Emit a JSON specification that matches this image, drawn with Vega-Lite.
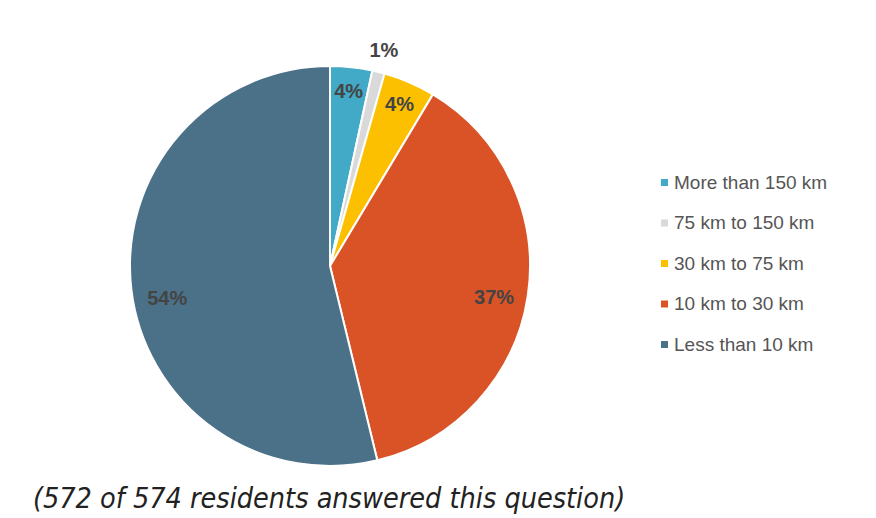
{
  "$schema": "https://vega.github.io/schema/vega-lite/v6.json",
  "width": 640,
  "height": 400,
  "padding": {"left": 10, "top": 35, "right": 5, "bottom": 4},
  "background": "white",
  "config": {"view": {"stroke": null}},
  "title": {
    "text": "(572 of 574 residents answered this question)",
    "orient": "bottom",
    "anchor": "start",
    "frame": "bounds",
    "offset": 15,
    "dx": 23,
    "font": "Liberation Sans Narrow, DejaVu Sans Condensed, sans-serif",
    "fontStyle": "italic",
    "fontWeight": "normal",
    "fontSize": 28.5,
    "color": "#222222"
  },
  "data": {
    "values": [
      {"category": "More than 150 km", "value": 3.4, "label": "4%", "order": 1},
      {"category": "75 km to 150 km", "value": 1.0, "label": "1%", "order": 2},
      {"category": "30 km to 75 km", "value": 4.2, "label": "4%", "order": 3},
      {"category": "10 km to 30 km", "value": 37.6, "label": "37%", "order": 4},
      {"category": "Less than 10 km", "value": 53.8, "label": "54%", "order": 5}
    ]
  },
  "encoding": {
    "theta": {"field": "value", "type": "quantitative", "stack": true},
    "order": {"field": "order", "type": "quantitative"}
  },
  "layer": [
    {
      "mark": {"type": "arc", "stroke": "white", "strokeWidth": 2},
      "encoding": {
        "color": {
          "field": "category",
          "type": "nominal",
          "sort": ["More than 150 km", "75 km to 150 km", "30 km to 75 km", "10 km to 30 km", "Less than 10 km"],
          "scale": {
            "domain": ["More than 150 km", "75 km to 150 km", "30 km to 75 km", "10 km to 30 km", "Less than 10 km"],
            "range": ["#42a9c6", "#d9d9d9", "#fcc000", "#d95327", "#4b7189"]
          },
          "legend": {
            "title": null,
            "orient": "none",
            "legendX": 645,
            "legendY": 107,
            "symbolType": "square",
            "symbolSize": 49,
            "symbolStrokeWidth": 0,
            "labelFont": "Liberation Sans",
            "labelFontSize": 19,
            "labelColor": "#555555",
            "labelOffset": 0,
            "rowPadding": 20.5
          }
        }
      }
    },
    {
      "mark": {"type": "text", "radius": 175, "font": "Liberation Sans", "fontWeight": "bold", "fontSize": 20, "color": "#444444"},
      "encoding": {
        "text": {"condition": {"test": "datum.order === 1 || datum.order === 3", "field": "label"}, "value": ""}
      }
    },
    {
      "mark": {"type": "text", "radius": 222, "font": "Liberation Sans", "fontWeight": "bold", "fontSize": 20, "color": "#444444"},
      "encoding": {
        "text": {"condition": {"test": "datum.order === 2", "field": "label"}, "value": ""}
      }
    },
    {
      "mark": {"type": "text", "radius": 166, "dy": 7, "font": "Liberation Sans", "fontWeight": "bold", "fontSize": 20, "color": "#444444"},
      "encoding": {
        "text": {"condition": {"test": "datum.order === 4", "field": "label"}, "value": ""}
      }
    },
    {
      "mark": {"type": "text", "radius": 164, "dy": 13, "font": "Liberation Sans", "fontWeight": "bold", "fontSize": 20, "color": "#444444"},
      "encoding": {
        "text": {"condition": {"test": "datum.order === 5", "field": "label"}, "value": ""}
      }
    }
  ]
}
